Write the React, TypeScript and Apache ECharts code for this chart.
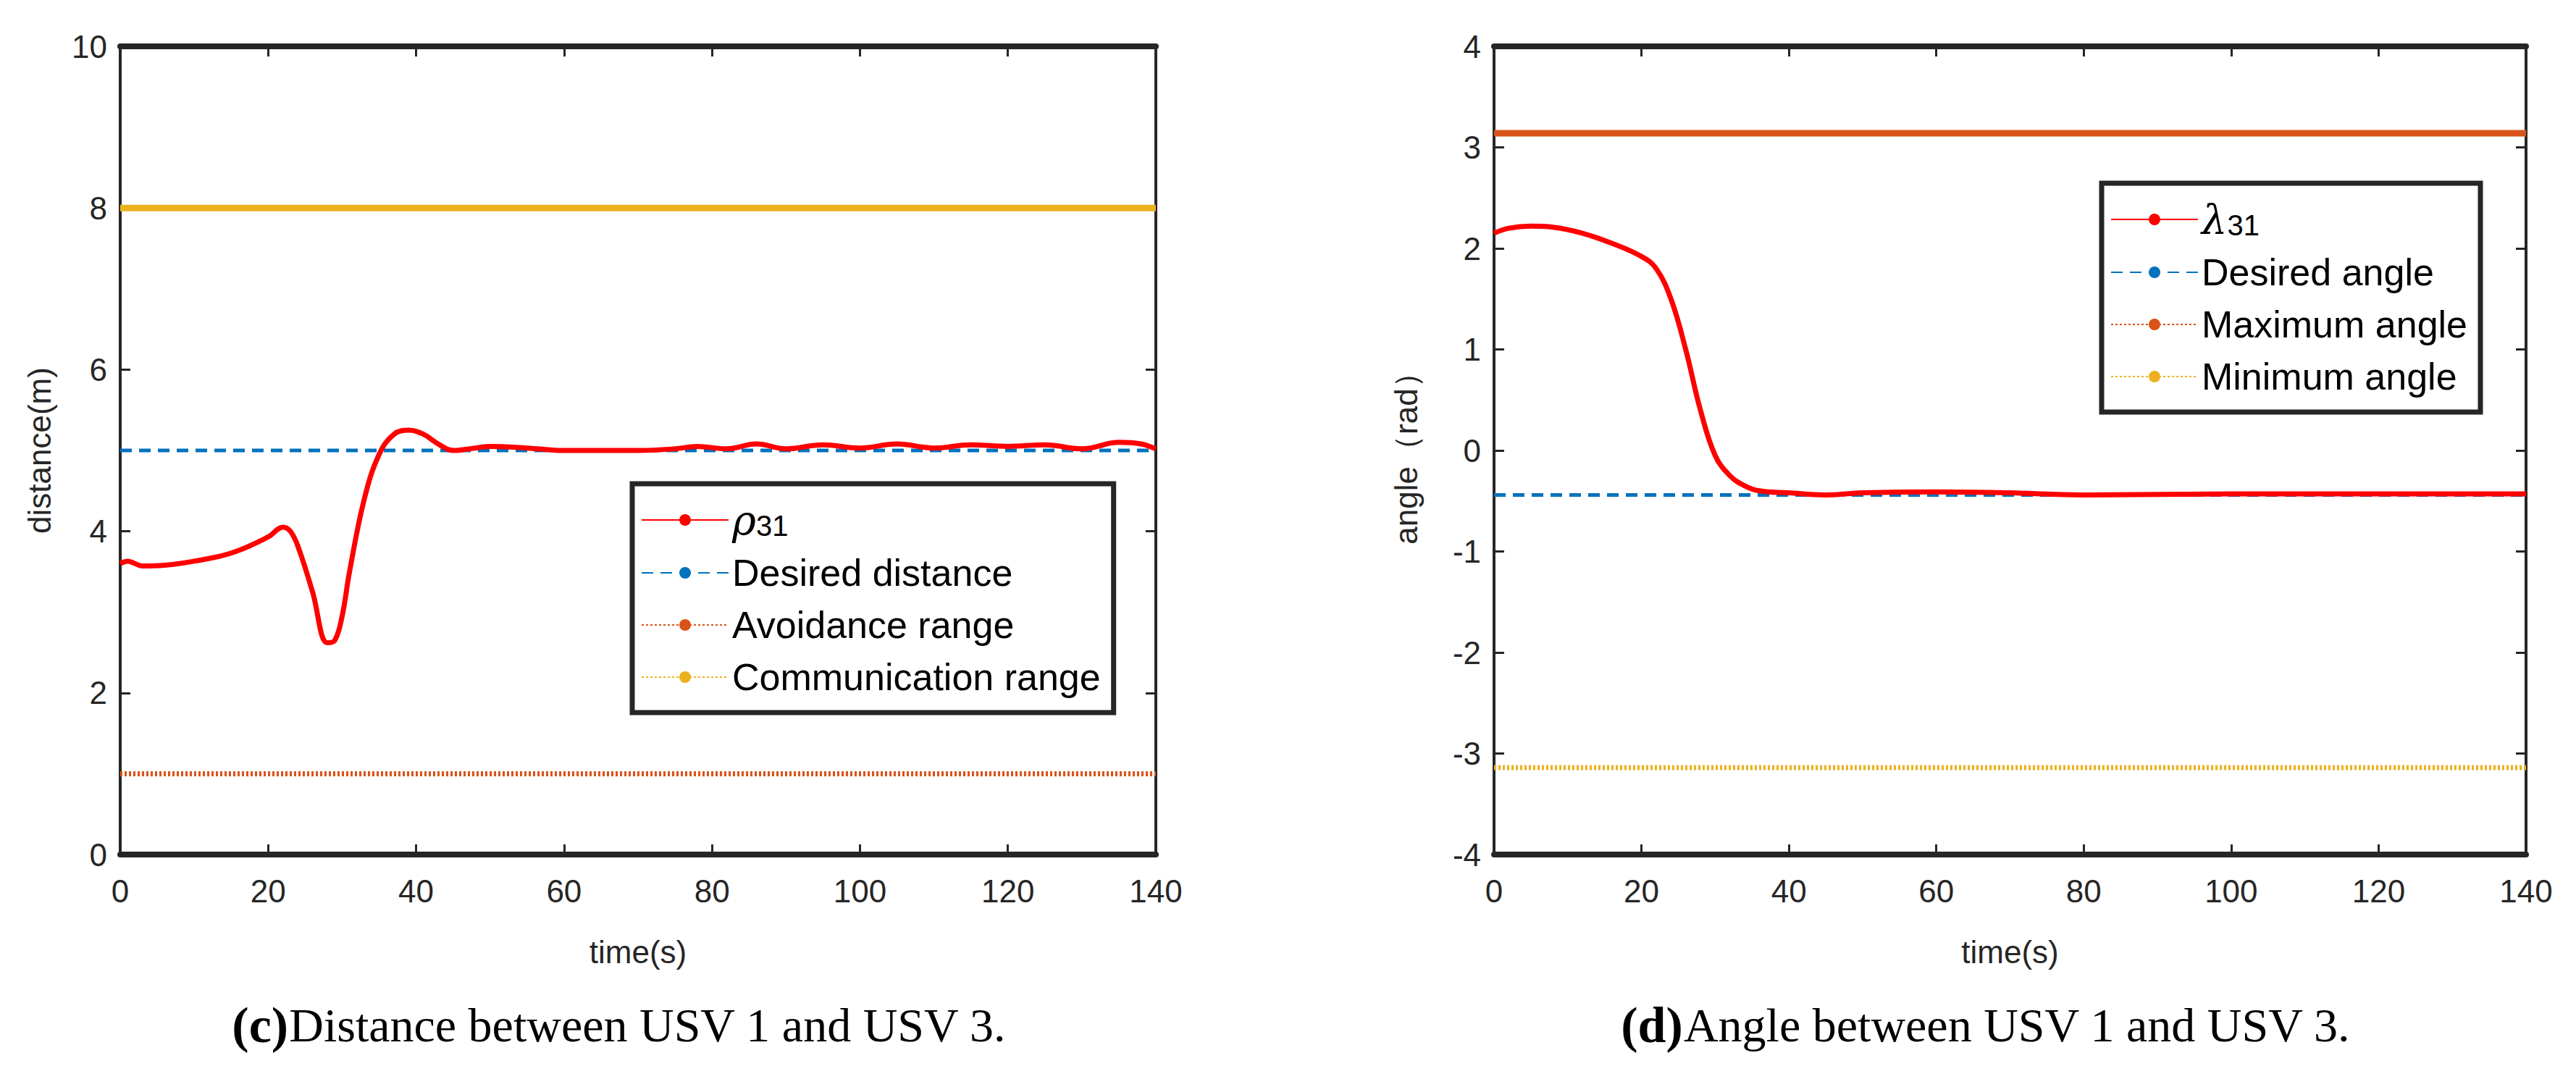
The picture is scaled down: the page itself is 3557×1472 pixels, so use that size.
import React, { useEffect, useRef } from "react";
import * as echarts from "echarts";

const rhoT = [0, 1, 2, 3, 6, 10, 15, 20, 22, 23, 24, 26, 28, 29, 30, 31, 33, 35, 37, 39, 41, 43, 45, 48, 50, 55, 60, 65, 70, 75, 78, 82, 86, 90, 95, 100, 105, 110, 115, 120, 125, 130, 135, 138, 140];
const rhoV = [3.6, 3.63, 3.6, 3.57, 3.58, 3.63, 3.73, 3.93, 4.05, 4.0, 3.82, 3.25, 2.62, 2.65, 2.95, 3.5, 4.4, 4.95, 5.2, 5.25, 5.2, 5.08, 5.0, 5.03, 5.05, 5.03, 5.0, 5.0, 5.0, 5.02, 5.05, 5.02, 5.08, 5.02, 5.07, 5.03, 5.08, 5.03, 5.07, 5.05, 5.07, 5.02, 5.1, 5.08, 5.02];
const lamT = [0, 2, 5, 8, 12, 16, 20, 22, 24, 26, 28, 30, 32, 34, 36, 40, 45, 50, 60, 70, 80, 100, 120, 140];
const lamV = [2.15, 2.2, 2.22, 2.21, 2.15, 2.05, 1.92, 1.8, 1.5, 1.0, 0.4, -0.05, -0.25, -0.35, -0.4, -0.42, -0.44, -0.42, -0.41, -0.42, -0.44, -0.43, -0.43, -0.43];
const desiredDist = 5, avoidRange = 1, commRange = 8;
const desiredAngle = -0.44, maxAngle = 3.14, minAngle = -3.14;

const RED = "#FF0000", BLUE = "#0072BD", ORANGE = "#D95319", YELLOW = "#EDB120";
const FONT = "Liberation Sans";

export default function App() {
  const ref = useRef<HTMLDivElement>(null);
  useEffect(() => {
    document.body.style.margin = "0";
    const chart = echarts.init(ref.current!, null, { renderer: "svg" });
    const grids = [
      { left: 166, top: 64, width: 1430, height: 1116 },
      { left: 2063, top: 64, width: 1425, height: 1116 },
    ];
    const xAx = (gi: number, pos: string, show: boolean) => ({
      type: "value", gridIndex: gi, position: pos, min: 0, max: 140, interval: 20,
      axisLine: { show: true, onZero: false, lineStyle: { color: "#262626", width: 8 } },
      axisTick: { show: true, inside: true, length: 14, lineStyle: { color: "#262626", width: 3 } },
      axisLabel: { show, color: "#262626", fontSize: 44, fontFamily: FONT, margin: 28 },
      splitLine: { show: false },
      name: show ? "time(s)" : "", nameLocation: "middle", nameGap: 112,
      nameTextStyle: { color: "#262626", fontSize: 44, fontFamily: FONT },
    });
    const yAx = (gi: number, pos: string, show: boolean, min: number, max: number, iv: number, name: string, gap: number) => ({
      type: "value", gridIndex: gi, position: pos, min, max, interval: iv,
      axisLine: { show: true, onZero: false, lineStyle: { color: "#262626", width: 4 } },
      axisTick: { show: true, inside: true, length: 14, lineStyle: { color: "#262626", width: 3 } },
      axisLabel: { show, color: "#262626", fontSize: 44, fontFamily: FONT, margin: 18 },
      splitLine: { show: false },
      name: show ? name : "", nameLocation: "middle", nameGap: gap,
      nameTextStyle: { color: "#262626", fontSize: 44, fontFamily: FONT },
    });
    const hline = (xi: number, y: number, color: string, type: any, w: number) => ({
      type: "line", xAxisIndex: xi, yAxisIndex: xi, symbol: "none", silent: true,
      data: [[0, y], [140, y]], lineStyle: { color, type, width: w }, z: 2,
    });
    const legendSeries = (xi: number, name: string, color: string, type: any) => ({
      type: "line", name, xAxisIndex: xi, yAxisIndex: xi, symbol: "none", data: [],
      lineStyle: { color, type, width: 7 }, itemStyle: { color },
    });
    const legendBase = {
      orient: "vertical", backgroundColor: "#fff", borderColor: "#262626", borderWidth: 7,
      itemWidth: 120, itemHeight: 20, itemGap: 18, padding: [22, 18, 22, 12],
      textStyle: {
        color: "#000", fontSize: 52, fontFamily: FONT, lineHeight: 54,
        rich: {
          g: { fontSize: 56, fontStyle: "italic", fontFamily: "DejaVu Serif", color: "#000", lineHeight: 56 },
          s: { fontSize: 40, verticalAlign: "bottom", padding: [34, 0, 0, 0], color: "#000", fontFamily: FONT },
        },
      },
    };
    const fmt = (n: string) => (n === "ρ31" ? "{g|ρ}{s|31}" : n === "λ31" ? "{g|λ}{s|31}" : n);
    const capRich = {
      b: { fontSize: 70, fontWeight: "bold", fontFamily: "Liberation Serif", fill: "#000" },
      t: { fontSize: 66, fontFamily: "Liberation Serif", fill: "#000" },
    };
    chart.setOption({
      animation: false,
      grid: grids,
      xAxis: [xAx(0, "bottom", true), xAx(0, "top", false), xAx(1, "bottom", true), xAx(1, "top", false)].map((a, i) => ({ ...a, gridIndex: i < 2 ? 0 : 1 })),
      yAxis: [
        yAx(0, "left", true, 0, 10, 2, "distance(m)", 90), yAx(0, "right", false, 0, 10, 2, "", 0),
        yAx(1, "left", true, -4, 4, 1, "angle（rad）", 100), yAx(1, "right", false, -4, 4, 1, "", 0),
      ],
      legend: [
        { ...legendBase, left: 873, top: 668, data: ["ρ31", "Desired distance", "Avoidance range", "Communication range"], formatter: fmt },
        { ...legendBase, left: 2902, top: 253, data: ["λ31", "Desired angle", "Maximum angle", "Minimum angle"], formatter: fmt },
      ],
      series: [
        hline(0, commRange, YELLOW, "solid", 9),
        hline(0, avoidRange, ORANGE, [3, 3], 7),
        hline(0, desiredDist, BLUE, [16, 10], 5),
        { type: "line", name: "ρ31", xAxisIndex: 0, yAxisIndex: 0, symbol: "none", smooth: 0.4, z: 3,
          data: rhoT.map((t, i) => [t, rhoV[i]]), lineStyle: { color: RED, width: 7 }, itemStyle: { color: RED } },
        legendSeries(0, "Desired distance", BLUE, [16, 10]),
        legendSeries(0, "Avoidance range", ORANGE, [3, 3]),
        legendSeries(0, "Communication range", YELLOW, [3, 3]),
        hline(2, maxAngle, ORANGE, "solid", 9),
        hline(2, minAngle, YELLOW, [3, 3], 7),
        hline(2, desiredAngle, BLUE, [16, 10], 5),
        { type: "line", name: "λ31", xAxisIndex: 2, yAxisIndex: 2, symbol: "none", smooth: 0.4, z: 3,
          data: lamT.map((t, i) => [t, lamV[i]]), lineStyle: { color: RED, width: 7 }, itemStyle: { color: RED } },
        legendSeries(2, "Desired angle", BLUE, [16, 10]),
        legendSeries(2, "Maximum angle", ORANGE, [3, 3]),
        legendSeries(2, "Minimum angle", YELLOW, [3, 3]),
      ],
      graphic: [
        { type: "text", x: 855, y: 1380, style: { text: "{b|(c)}{t|Distance between USV 1 and USV 3.}", align: "center", rich: capRich } },
        { type: "text", x: 2742, y: 1380, style: { text: "{b|(d)}{t|Angle between USV 1 and USV 3.}", align: "center", rich: capRich } },
      ],
    });
    return () => chart.dispose();
  }, []);
  return <div ref={ref} style={{ width: 3557, height: 1472, background: "#fff" }} />;
}
